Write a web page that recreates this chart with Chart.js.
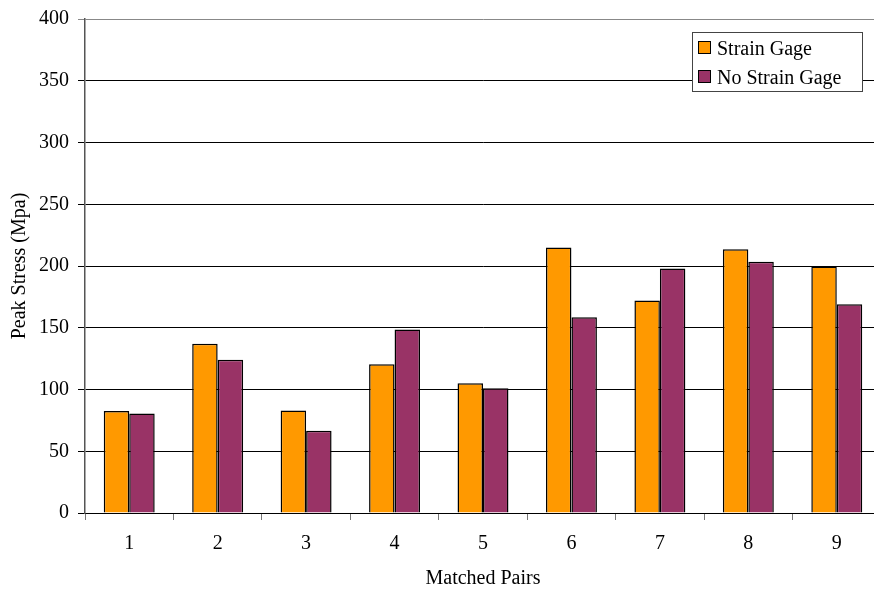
<!DOCTYPE html>
<html>
<head>
<meta charset="utf-8">
<script src="https://cdn.jsdelivr.net/npm/chart.js@4/dist/chart.umd.min.js"></script>
<style>
  html, body { margin: 0; padding: 0; background: #fff; overflow: hidden; }
  #wrap { width: 884px; height: 590px; }
</style>
</head>
<body>
<div id="wrap"><canvas id="c"></canvas></div>
<script>
// Peak stress of matched specimen pairs, with and without a strain gage
const pairs = ['1', '2', '3', '4', '5', '6', '7', '8', '9'];
const strainGage = [82.5, 137, 83, 120.5, 105, 215, 172, 213.5, 199.5];
const noStrainGage = [80.5, 124, 66.5, 148.5, 101, 158.5, 198, 203.5, 169];
const seriesNames = ['Strain Gage', 'No Strain Gage'];
const seriesColors = ['#FF9900', '#993366'];

const FONT = 'Liberation Serif, Times New Roman, serif';

// Boxed legend drawn inside the plot area, top right
const boxLegend = {
  id: 'boxLegend',
  afterDraw(chart) {
    const ctx = chart.ctx;
    const x = 692, y = 32, w = 170, h = 59;
    ctx.save();
    ctx.fillStyle = '#fff';
    ctx.fillRect(x, y, w, h);
    ctx.strokeStyle = '#444';
    ctx.lineWidth = 1;
    ctx.strokeRect(x + 0.5, y + 0.5, w, h);
    ctx.font = '20px ' + FONT;
    ctx.textBaseline = 'alphabetic';
    chart.data.datasets.forEach((ds, i) => {
      const ry = y + 9 + i * 29;
      ctx.fillStyle = ds.backgroundColor;
      ctx.fillRect(x + 6, ry, 12, 12);
      ctx.strokeStyle = '#000';
      ctx.strokeRect(x + 6.5, ry + 0.5, 12, 12);
      ctx.fillStyle = '#000';
      ctx.fillText(ds.label, x + 25, ry + 14);
    });
    ctx.restore();
  }
};

new Chart(document.getElementById('c'), {
  type: 'bar',
  data: {
    labels: pairs,
    datasets: [
      { label: seriesNames[0], data: strainGage, backgroundColor: seriesColors[0] },
      { label: seriesNames[1], data: noStrainGage, backgroundColor: seriesColors[1] }
    ]
  },
  options: {
    responsive: true,
    maintainAspectRatio: false,
    animation: false,
    layout: { padding: { top: 17, right: 3, bottom: 0, left: 0 } },
    datasets: {
      bar: {
        borderColor: '#000',
        borderWidth: 1.5,
        borderSkipped: 'bottom',
        categoryPercentage: 0.576,
        barPercentage: 1.0
      }
    },
    plugins: {
      legend: { display: false },
      tooltip: { enabled: false }
    },
    scales: {
      x: {
        offset: true,
        grid: {
          offset: true,
          drawOnChartArea: false,
          drawTicks: true,
          tickLength: 7,
          color: '#777'
        },
        border: { display: true, color: '#000', width: 1 },
        ticks: {
          color: '#000',
          font: { family: FONT, size: 20 },
          padding: 12
        },
        title: {
          display: true,
          text: 'Matched Pairs',
          color: '#000',
          font: { family: FONT, size: 20 },
          padding: { top: 0, bottom: -1 }
        },
        afterFit(scale) { scale.height = 77; }
      },
      y: {
        min: 0,
        max: 400,
        ticks: {
          stepSize: 50,
          color: '#000',
          font: { family: FONT, size: 20, lineHeight: 1 },
          padding: 9
        },
        grid: {
          color: (c) => (c.tick && c.tick.value === 400 ? '#888' : '#000'),
          lineWidth: 1,
          tickLength: 7,
          drawTicks: true
        },
        border: { display: true, color: '#555', width: 1.5 },
        title: {
          display: true,
          text: 'Peak Stress (Mpa)',
          color: '#000',
          font: { family: FONT, size: 20 },
          padding: { top: 8, bottom: 0 }
        },
        afterFit(scale) { scale.width = 85; }
      }
    }
  },
  plugins: [boxLegend]
});
</script>
</body>
</html>
